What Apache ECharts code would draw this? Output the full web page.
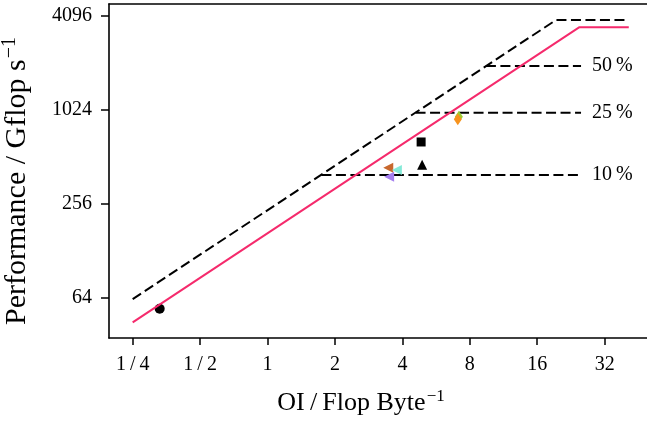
<!DOCTYPE html>
<html>
<head>
<meta charset="utf-8">
<script src="https://cdn.jsdelivr.net/npm/echarts@6/dist/echarts.min.js"></script>
<style>
  html, body { margin: 0; padding: 0; background: #fff; }
  #chart { width: 647px; height: 422px; }
</style>
</head>
<body>
<div id="chart"></div>
<script>
// Roofline plot, both axes in base-2 logarithm.
const xTicks = [0.25, 0.5, 1, 2, 4, 8, 16, 32];          // OI (Flop/Byte)
const yTicks = [64, 256, 1024, 4096];                    // GFlop/s
const xRange = [0.196, 49.45];
const yRange = [35.5, 4888];

// Ceilings: [OI, GFlop/s]
const peakRoof = [[0.25, 63], [19.4, 3860], [40.1, 3860]];
const achievedRoof = [[0.25, 44.7], [24.6, 3467], [41, 3467]];

// Fractions of peak
const levelNames = ['50\u2009%', '25\u2009%', '10\u2009%'];
const levelStartOI = [9.44, 4.58, 1.74];
const levelEndOI = 25.1;
const levelPerf = [1960, 985, 393];

// Measured kernels
const kernelNames = ['k1', 'k2', 'k3', 'k4', 'k5', 'k6', 'k7', 'k8'];
const kernelOI = [0.330, 4.85, 4.90, 7.15, 7.07, 3.46, 3.78, 3.49];
const kernelPerf = [54.7, 639, 457, 927, 894, 437, 423, 383];

const kernelStyle = [
  { symbol: 'circle',   size: 10,      rotate: 0,  color: '#000000' },
  { symbol: 'rect',     size: 9,       rotate: 0,  color: '#000000' },
  { symbol: 'triangle', size: 10,      rotate: 0,  color: '#000000' },
  { symbol: 'diamond',  size: [8, 12], rotate: 0,  color: '#9acd32' },
  { symbol: 'diamond',  size: [8, 12], rotate: 0,  color: '#f7931e' },
  { symbol: 'triangle', size: 10,      rotate: 90, color: '#c8682e' },
  { symbol: 'triangle', size: 10,      rotate: 90, color: '#84ead8' },
  { symbol: 'triangle', size: 10,      rotate: 90, color: '#a57ff0' }
];

const L = Math.log2;
const toXY = p => [L(p[0]), L(p[1])];
const FONT = '"Liberation Serif", "DejaVu Serif", serif';

const fmtX = v => {
  const r = Math.round(Math.pow(2, Math.abs(v)));
  return v < 0 ? '1\u2009/\u2009' + r : String(r);
};
const fmtY = v => String(Math.round(Math.pow(2, v)));

const dashed = { color: '#000', width: 2, type: [10, 4.5] };
const frame = { color: '#000', width: 1.6 };

const series = [
  {
    type: 'line', name: 'peak', data: peakRoof.map(toXY),
    showSymbol: false, silent: true, lineStyle: dashed, z: 2
  }
];
levelNames.forEach((nm, i) => {
  series.push({
    type: 'line', name: nm,
    data: [[L(levelStartOI[i]), L(levelPerf[i])], [L(levelEndOI), L(levelPerf[i])]],
    showSymbol: false, silent: true, lineStyle: dashed, z: 2,
    endLabel: {
      show: true, formatter: nm, distance: 11,
      fontFamily: FONT, fontSize: 20, color: '#000'
    }
  });
});
series.push({
  type: 'scatter', name: 'kernels', silent: true, z: 3,
  data: kernelOI.map((x, i) => ({
    name: kernelNames[i],
    value: [L(x), L(kernelPerf[i])],
    symbol: kernelStyle[i].symbol,
    symbolSize: kernelStyle[i].size,
    symbolRotate: kernelStyle[i].rotate,
    itemStyle: { color: kernelStyle[i].color, opacity: 1 }
  }))
});
series.push({
  type: 'line', name: 'achieved', data: achievedRoof.map(toXY),
  showSymbol: false, silent: true, z: 4,
  lineStyle: { color: '#f52a6c', width: 2 }
});

const chart = echarts.init(document.getElementById('chart'), null, { renderer: 'canvas' });
chart.setOption({
  animation: false,
  backgroundColor: '#fff',
  grid: { left: 109, top: 4, right: 0, bottom: 84, containLabel: false, outerBoundsMode: 'none' },
  xAxis: [
    {
      type: 'value', min: L(xRange[0]), max: L(xRange[1]),
      name: '{t|OI\u2009/\u2009Flop Byte}{s|\u22121}',
      nameLocation: 'middle', nameGap: 50,
      nameTextStyle: {
        padding: [0, 34, 0, 0],
        rich: {
          t: { fontFamily: FONT, fontSize: 26, color: '#000' },
          s: { fontFamily: FONT, fontSize: 17, color: '#000', padding: [0, 0, 13, 1] }
        }
      },
      splitLine: { show: false },
      axisLine: { show: true, onZero: false, lineStyle: frame },
      axisTick: { show: true, customValues: xTicks.map(L), length: 7, lineStyle: { color: '#000', width: 1.5 } },
      axisLabel: {
        customValues: xTicks.map(L), formatter: fmtX, margin: 17,
        fontFamily: FONT, fontSize: 20, color: '#000'
      }
    },
    {
      // top frame line
      type: 'value', position: 'top', min: L(xRange[0]), max: L(xRange[1]),
      splitLine: { show: false },
      axisLine: { show: true, onZero: false, lineStyle: frame },
      axisTick: { show: false },
      axisLabel: { show: false }
    }
  ],
  yAxis: {
    type: 'value', min: L(yRange[0]), max: L(yRange[1]),
    name: '{t|Performance / Gflop s}{s|\u22121}',
    nameLocation: 'middle', nameGap: 74, nameRotate: 90,
    nameTextStyle: {
      padding: [0, 20, 0, 0],
      rich: {
        t: { fontFamily: FONT, fontSize: 30, color: '#000' },
        s: { fontFamily: FONT, fontSize: 20, color: '#000', padding: [0, 0, 15, 1] }
      }
    },
    splitLine: { show: false },
    axisLine: { show: true, onZero: false, lineStyle: frame },
    axisTick: { show: true, customValues: yTicks.map(L), length: 8, lineStyle: { color: '#000', width: 1.5 } },
    axisLabel: {
      customValues: yTicks.map(L), formatter: fmtY, margin: 17,
      fontFamily: FONT, fontSize: 20, color: '#000'
    }
  },
  series: series
});
</script>
</body>
</html>
